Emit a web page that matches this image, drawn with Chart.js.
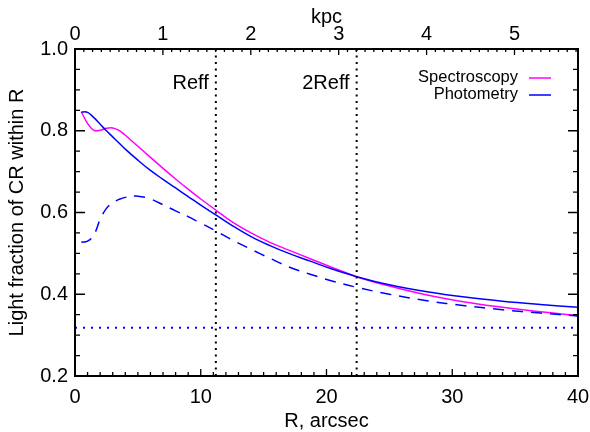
<!DOCTYPE html>
<html>
<head>
<meta charset="utf-8">
<script src="https://cdn.jsdelivr.net/npm/chart.js@4.4.1/dist/chart.umd.min.js"></script>
<style>
  html, body { margin: 0; padding: 0; background: #fff; }
</style>
</head>
<body>
<canvas id="lightChart" width="590" height="432"></canvas>
<script>
// ---- data ----
// radius in arcsec
const radius = [0.5, 1, 1.5, 2, 2.5, 3, 3.5, 4, 5, 6, 7, 8, 9, 10, 11.2, 12.5, 14, 15.5, 17, 18.7, 20.5, 22.4, 25, 28, 31, 34, 37, 40];
const spectroscopy = [0.846, 0.818, 0.801, 0.801, 0.806, 0.807, 0.801, 0.789, 0.762, 0.735, 0.708, 0.682, 0.657, 0.633, 0.606, 0.577, 0.550, 0.527, 0.508, 0.487, 0.465, 0.443, 0.420, 0.398, 0.381, 0.368, 0.357, 0.348];
const photometry = [0.846, 0.845, 0.832, 0.816, 0.800, 0.785, 0.770, 0.755, 0.728, 0.703, 0.681, 0.660, 0.639, 0.618, 0.594, 0.568, 0.541, 0.519, 0.500, 0.481, 0.461, 0.443, 0.423, 0.406, 0.393, 0.383, 0.375, 0.368];
const photometryDashed = [0.527, 0.530, 0.545, 0.583, 0.610, 0.624, 0.632, 0.637, 0.640, 0.633, 0.619, 0.604, 0.590, 0.574, 0.555, 0.533, 0.510, 0.488, 0.467, 0.449, 0.432, 0.417, 0.400, 0.384, 0.372, 0.362, 0.354, 0.347];

const reff = 11.2;        // arcsec
const twoReff = 22.4;     // arcsec
const floorLevel = 0.318; // dotted horizontal line
const arcsecPerKpc = 6.99;

const xRange = [0, 40];
const yRange = [0.2, 1.0];

const seriesNames = ['Spectroscopy', 'Photometry'];
const seriesColors = ['#ff00ff', '#0000ff'];

const FONT = '"Liberation Sans", Arial, Helvetica, sans-serif';
Chart.defaults.font.family = FONT;
Chart.defaults.color = '#000';

function toPoints(xs, ys) {
    return xs.map((x, i) => ({ x: x, y: ys[i] }));
}

// frame, inward tick marks, line labels and the legend
const frameTicks = {
    id: 'frameTicks',
    afterDatasetsDraw(chart) {
        const { ctx, chartArea: a, scales } = chart;
        ctx.save();
        ctx.strokeStyle = '#000';
        ctx.lineWidth = 1.3;
        ctx.beginPath();
        for (let v = xRange[0]; v <= xRange[1]; v++) {
            const px = scales.x.getPixelForValue(v);
            const len = v % 10 === 0 ? 7 : 4;
            ctx.moveTo(px, a.bottom);
            ctx.lineTo(px, a.bottom - len);
        }
        const kpcMax = xRange[1] / arcsecPerKpc;
        for (let k = 0; k / 10 <= kpcMax; k++) {
            const px = scales.x2.getPixelForValue(k / 10);
            const len = k % 10 === 0 ? 6 : 3;
            ctx.moveTo(px, a.top);
            ctx.lineTo(px, a.top + len);
        }
        for (let i = 0; i <= 16; i++) {
            const py = scales.y.getPixelForValue(yRange[0] + i * 0.05);
            const len = i % 4 === 0 ? 10 : 5;
            ctx.moveTo(a.left, py);
            ctx.lineTo(a.left + len, py);
            ctx.moveTo(a.right, py);
            ctx.lineTo(a.right - len, py);
        }
        ctx.stroke();

        ctx.lineWidth = 2;
        ctx.strokeRect(a.left, a.top, a.right - a.left, a.bottom - a.top);

        ctx.fillStyle = '#000';
        ctx.font = '20px ' + FONT;
        ctx.textAlign = 'right';
        ctx.textBaseline = 'middle';
        ctx.fillText('Reff', scales.x.getPixelForValue(reff) - 7, a.top + 34);
        ctx.fillText('2Reff', scales.x.getPixelForValue(twoReff) - 7, a.top + 34);

        // legend: text right aligned, short line on the right
        ctx.font = '16.5px ' + FONT;
        seriesNames.forEach((name, i) => {
            const y = a.top + 28 + i * 17;
            ctx.fillStyle = '#000';
            ctx.fillText(name, a.right - 60, y);
            ctx.strokeStyle = seriesColors[i];
            ctx.lineWidth = 1.5;
            ctx.beginPath();
            ctx.moveTo(a.right - 49, y + 1);
            ctx.lineTo(a.right - 27, y + 1);
            ctx.stroke();
        });
        ctx.restore();
    }
};

const lineDefaults = { pointRadius: 0, fill: false, xAxisID: 'x', yAxisID: 'y', tension: 0.4 };

new Chart(document.getElementById('lightChart'), {
    type: 'line',
    data: {
        datasets: [
            Object.assign({}, lineDefaults, {
                label: 'Reff',
                data: [{ x: reff, y: yRange[0] }, { x: reff, y: yRange[1] }],
                borderColor: '#000', borderWidth: 2, borderDash: [2, 4.5], tension: 0
            }),
            Object.assign({}, lineDefaults, {
                label: '2Reff',
                data: [{ x: twoReff, y: yRange[0] }, { x: twoReff, y: yRange[1] }],
                borderColor: '#000', borderWidth: 2, borderDash: [2, 4.5], tension: 0
            }),
            Object.assign({}, lineDefaults, {
                label: 'floor',
                data: [{ x: xRange[0], y: floorLevel }, { x: xRange[1], y: floorLevel }],
                borderColor: seriesColors[1], borderWidth: 2, borderDash: [2, 6], tension: 0
            }),
            Object.assign({}, lineDefaults, {
                label: 'Photometry (dashed)',
                data: toPoints(radius, photometryDashed),
                borderColor: seriesColors[1], borderWidth: 1.5, borderDash: [11, 8]
            }),
            Object.assign({}, lineDefaults, {
                label: seriesNames[1],
                data: toPoints(radius, photometry),
                borderColor: seriesColors[1], borderWidth: 1.5
            }),
            Object.assign({}, lineDefaults, {
                label: seriesNames[0],
                data: toPoints(radius, spectroscopy),
                borderColor: seriesColors[0], borderWidth: 1.5
            })
        ]
    },
    options: {
        responsive: false,
        animation: false,
        layout: { padding: { left: 0, right: 12, top: 0, bottom: 0 } },
        plugins: {
            legend: { display: false },
            tooltip: { enabled: false }
        },
        scales: {
            x: {
                type: 'linear',
                position: 'bottom',
                min: xRange[0], max: xRange[1],
                grid: { display: false, drawTicks: false },
                border: { display: false },
                ticks: { stepSize: 10, padding: 9, font: { size: 20 }, maxRotation: 0, autoSkip: false },
                title: { display: true, text: 'R, arcsec', font: { size: 20 }, padding: { top: 0, bottom: -1 } },
                afterFit: s => { s.height = 56; s.paddingLeft = 0; s.paddingRight = 0; }
            },
            x2: {
                type: 'linear',
                position: 'top',
                min: 0, max: xRange[1] / arcsecPerKpc,
                grid: { display: false, drawTicks: false },
                border: { display: false },
                ticks: { stepSize: 1, includeBounds: false, padding: 3, font: { size: 20 }, maxRotation: 0,
                         callback: v => Number.isInteger(v) ? String(v) : '' },
                title: { display: true, text: 'kpc', font: { size: 20 }, padding: { top: 5, bottom: 0 } },
                afterFit: s => { s.height = 49; s.paddingLeft = 0; s.paddingRight = 0; }
            },
            y: {
                type: 'linear',
                position: 'left',
                min: yRange[0], max: yRange[1],
                grid: { display: false, drawTicks: false },
                border: { display: false },
                ticks: { stepSize: 0.2, padding: 7, font: { size: 20 }, callback: v => v.toFixed(1) },
                title: { display: true, text: 'Light fraction of CR within R', font: { size: 20 }, padding: { top: 5, bottom: 0 } },
                afterFit: s => { s.width = 75; }
            }
        }
    },
    plugins: [frameTicks]
});
</script>
</body>
</html>
